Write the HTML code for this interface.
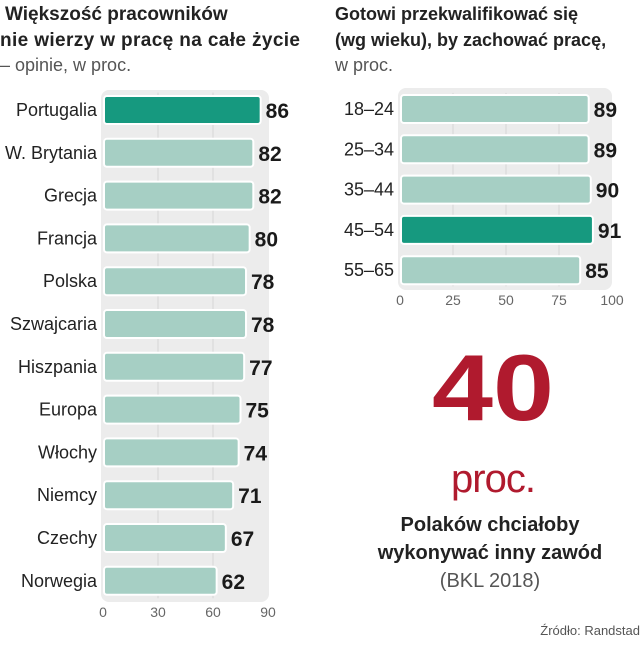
<!DOCTYPE html>
<html><head><meta charset="utf-8"><style>
body{margin:0;background:#fff;width:643px;height:640px;overflow:hidden;font-family:"Liberation Sans",sans-serif;}
svg text{font-family:"Liberation Sans",sans-serif;}
</style></head><body>
<svg id="c" width="643" height="640">
<g fill="#222">
<text x="5" y="20" font-size="19" font-weight="bold">Większość pracowników</text>
<text x="0" y="46" font-size="19" font-weight="bold" textLength="300">nie wierzy w pracę na całe życie</text>
<text x="0" y="71" font-size="18" fill="#555">– opinie, w proc.</text>
</g>
<g fill="#222">
<text x="335" y="20" font-size="18" font-weight="bold">Gotowi przekwalifikować się</text>
<text x="335" y="46" font-size="18" font-weight="bold">(wg wieku), by zachować pracę,</text>
<text x="335" y="71" font-size="18" fill="#555">w proc.</text>
</g>
<rect x="101" y="90" width="168" height="512" rx="8" fill="#ececec"/>
<rect x="398" y="88" width="214" height="202" rx="8" fill="#ececec"/>
<g id="L"></g><g id="R"></g>
<text x="432" y="420" font-size="94" font-weight="bold" fill="#b01a2e" textLength="122" lengthAdjust="spacingAndGlyphs">40</text>
<text x="493" y="492" font-size="40" fill="#b01a2e" text-anchor="middle" letter-spacing="-1">proc.</text>
<text x="490" y="531" font-size="20" font-weight="bold" fill="#222" text-anchor="middle">Polaków chciałoby</text>
<text x="490" y="559" font-size="20" font-weight="bold" fill="#222" text-anchor="middle">wykonywać inny zawód</text>
<text x="490" y="587" font-size="20" fill="#555" text-anchor="middle">(BKL 2018)</text>
<text x="640" y="635" font-size="13" fill="#555" text-anchor="end">Źródło: Randstad</text>
</svg>
<script>
const leftCats=["Portugalia","W. Brytania","Grecja","Francja","Polska","Szwajcaria","Hiszpania","Europa","Włochy","Niemcy","Czechy","Norwegia"];
const leftVals=[86,82,82,80,78,78,77,75,74,71,67,62];
const leftTicks=[0,30,60,90];
const leftHighlight="Portugalia";
const rightCats=["18–24","25–34","35–44","45–54","55–65"];
const rightVals=[89,89,90,91,85];
const rightTicks=[0,25,50,75,100];
const rightHighlight="45–54";
const NS="http://www.w3.org/2000/svg";
function mk(p,t,a){const e=document.createElementNS(NS,t);for(const k in a)e.setAttribute(k,a[k]);p.appendChild(e);return e;}
function draw(g,cats,vals,ticks,hl,x0,x1,max,y0,step,tickY,valSize,pre){
  const sx=v=>x0+(x1-x0)*v/max;
  ticks.forEach(t=>{
    if(t>0&&t<max){const l=mk(g,'line',{x1:sx(t),x2:sx(t),y1:y0-step/2+4,y2:y0+step*(cats.length-0.5)-4,stroke:'#d6d6d6','stroke-width':1});
    }
    const tx=mk(g,'text',{x:sx(t),y:tickY,'font-size':14,fill:'#666','text-anchor':'middle'});tx.textContent=t;
    
  });
  cats.forEach((c,i)=>{
    const cy=y0+i*step,v=vals[i];
    const r=mk(g,'rect',{x:x0+1,y:cy-14,width:sx(v)-x0-1,height:28,rx:3,fill:c===hl?'#16997f':'#a6cfc4',stroke:'#fff','stroke-width':2});
    
    const lb=mk(g,'text',{x:x0-6,y:cy+6,'font-size':18,fill:'#222','text-anchor':'end'});lb.textContent=c;
    
    const vl=mk(g,'text',{x:sx(v)+5,y:cy+8,'font-size':valSize,'font-weight':'bold',fill:'#1a1a1a'});vl.textContent=v;
    
  });
}
draw(document.getElementById('L'),leftCats,leftVals,leftTicks,leftHighlight,103,268,90,110,42.8,617,21,'left');
draw(document.getElementById('R'),rightCats,rightVals,rightTicks,rightHighlight,400,612,100,109,40.3,305,21,'right');
</script>
</body></html>
